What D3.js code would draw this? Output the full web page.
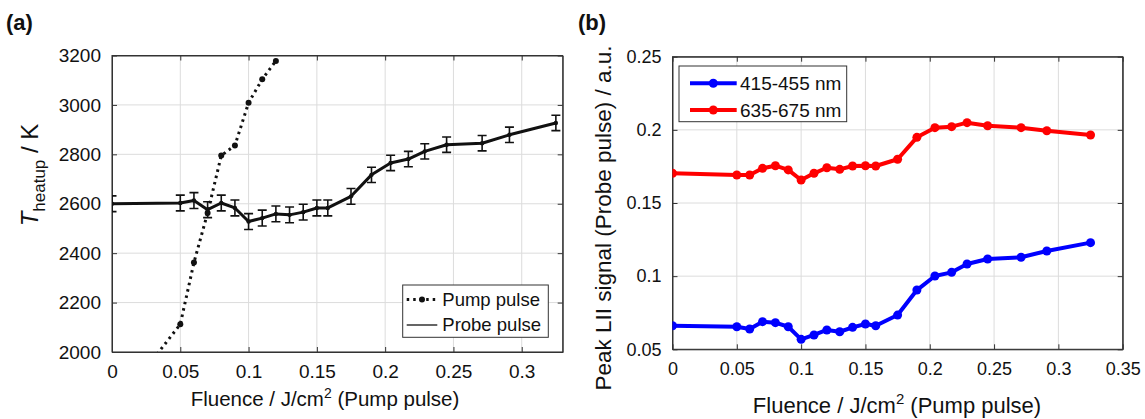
<!DOCTYPE html>
<html><head><meta charset="utf-8">
<script src="https://cdn.jsdelivr.net/npm/d3@7"></script>
<style>
html,body{margin:0;padding:0;background:#fff;}
svg text{font-family:"Liberation Sans",Arial,sans-serif;fill:#111;}
</style></head>
<body>
<svg id="c" width="1145" height="419"></svg>
<script>
// ---------- data ----------
const fluence = [0, 0.05, 0.06, 0.07, 0.08, 0.09, 0.10, 0.11, 0.12, 0.13, 0.14, 0.15, 0.158, 0.175, 0.19, 0.204, 0.217, 0.229, 0.245, 0.271, 0.291, 0.325];
const probeT = [2600, 2603, 2613, 2576, 2603, 2583, 2528, 2542, 2559, 2555, 2566, 2583, 2583, 2630, 2717, 2765, 2781, 2812, 2839, 2845, 2879, 2927];
const probeErr = [32, 32, 32, 32, 32, 32, 32, 32, 32, 32, 32, 32, 32, 32, 31, 31, 31, 31, 31, 31, 31, 31];
const pumpFluence = [0.03, 0.05, 0.06, 0.07, 0.08, 0.09, 0.10, 0.11, 0.12];
const pumpT = [1970, 2112, 2362, 2563, 2795, 2836, 3009, 3104, 3178];
const blueSignal = [0.0661, 0.0654, 0.0639, 0.0689, 0.0682, 0.0654, 0.0568, 0.0598, 0.0632, 0.0620, 0.0650, 0.0673, 0.0661, 0.0734, 0.0905, 0.1001, 0.1026, 0.1083, 0.1117, 0.1129, 0.1172, 0.1229];
const redSignal = [0.1703, 0.1691, 0.1691, 0.1737, 0.1755, 0.1726, 0.1657, 0.1703, 0.1741, 0.1730, 0.1753, 0.1755, 0.1753, 0.1799, 0.1949, 0.2015, 0.2022, 0.2049, 0.2028, 0.2015, 0.1994, 0.1965];
const leftXTicks = [0, 0.05, 0.1, 0.15, 0.2, 0.25, 0.3];
const leftYTicks = [2000, 2200, 2400, 2600, 2800, 3000, 3200];
const rightXTicks = [0, 0.05, 0.1, 0.15, 0.2, 0.25, 0.3, 0.35];
const rightYTicks = [0.05, 0.1, 0.15, 0.2, 0.25];
const legendA = ["Pump pulse", "Probe pulse"];
const legendB = ["415-455 nm", "635-675 nm"];

const svg = d3.select("#c");

function panel(o) {
  const g = svg.append("g");
  const x = d3.scaleLinear().domain(o.xd).range([o.x0, o.x1]);
  const y = d3.scaleLinear().domain(o.yd).range([o.y1, o.y0]);
  // grid
  g.append("g").selectAll("line").data(o.xt).join("line")
    .attr("x1", d => x(d)).attr("x2", d => x(d)).attr("y1", o.y0).attr("y2", o.y1)
    .attr("stroke", "#dcdcdc").attr("stroke-width", 1);
  g.append("g").selectAll("line").data(o.yt).join("line")
    .attr("x1", o.x0).attr("x2", o.x1).attr("y1", d => y(d)).attr("y2", d => y(d))
    .attr("stroke", "#dcdcdc").attr("stroke-width", 1);
  // axes (MATLAB style, inward ticks)
  const fmtX = d => d3.format("~g")(d);
  const ax = [
    [d3.axisBottom(x).tickValues(o.xt).tickSizeInner(-5).tickSizeOuter(0).tickFormat(fmtX).tickPadding(13), o.y1, "x"],
    [d3.axisTop(x).tickValues(o.xt).tickSizeInner(-5).tickSizeOuter(0).tickFormat(""), o.y0, "x"],
    [d3.axisLeft(y).tickValues(o.yt).tickSizeInner(-5).tickSizeOuter(0).tickFormat(o.yfmt).tickPadding(11), o.x0, "y"],
    [d3.axisRight(y).tickValues(o.yt).tickSizeInner(-5).tickSizeOuter(0).tickFormat(""), o.x1, "y"]
  ];
  ax.forEach(([a, pos, t]) => {
    const ag = g.append("g").attr("transform", t === "x" ? `translate(0,${pos})` : `translate(${pos},0)`).call(a);
    ag.selectAll("path,line").attr("stroke", "#333");
    ag.selectAll("text").style("font-size", o.tickFs + "px").attr("fill", "#111");
  });
  g.append("rect").attr("x", o.x0).attr("y", o.y0).attr("width", o.x1 - o.x0).attr("height", o.y1 - o.y0)
    .attr("fill", "none").attr("stroke", "#333").attr("stroke-width", 1);
  const clipId = "clip" + o.id;
  svg.append("clipPath").attr("id", clipId).append("rect")
    .attr("x", o.x0).attr("y", o.y0).attr("width", o.x1 - o.x0).attr("height", o.y1 - o.y0);
  const plot = g.append("g").attr("clip-path", `url(#${clipId})`);
  return { g, x, y, plot };
}

// ---------- panel (a) ----------
const A = panel({ id: "a", x0: 112, x1: 562.7, y0: 55.5, y1: 352, xd: [0, 0.33], yd: [2000, 3200],
  xt: leftXTicks, yt: leftYTicks, yfmt: d3.format("d"), tickFs: 19 });

const pumpData = pumpFluence.map((f, i) => [f, pumpT[i]]);
A.plot.append("path").datum(pumpData)
  .attr("d", d3.line().x(d => A.x(d[0])).y(d => A.y(d[1])))
  .attr("fill", "none").attr("stroke", "#111").attr("stroke-width", 3).attr("stroke-dasharray", "2.5,4");
A.plot.append("g").selectAll("circle").data(pumpData).join("circle")
  .attr("cx", d => A.x(d[0])).attr("cy", d => A.y(d[1])).attr("r", 3).attr("fill", "#111");

const probeData = fluence.map((f, i) => [f, probeT[i], probeErr[i]]);
const eb = A.plot.append("g").attr("stroke", "#111").attr("stroke-width", 1.6);
probeData.forEach(d => {
  const cx = A.x(d[0]), yt = A.y(d[1] + d[2]), yb = A.y(d[1] - d[2]);
  eb.append("line").attr("x1", cx).attr("x2", cx).attr("y1", yt).attr("y2", yb);
  eb.append("line").attr("x1", cx - 4.5).attr("x2", cx + 4.5).attr("y1", yt).attr("y2", yt);
  eb.append("line").attr("x1", cx - 4.5).attr("x2", cx + 4.5).attr("y1", yb).attr("y2", yb);
});
A.plot.append("path").datum(probeData)
  .attr("d", d3.line().x(d => A.x(d[0])).y(d => A.y(d[1])))
  .attr("fill", "none").attr("stroke", "#111").attr("stroke-width", 3).attr("stroke-linejoin", "round");
A.plot.append("g").selectAll("circle").data(probeData).join("circle")
  .attr("cx", d => A.x(d[0])).attr("cy", d => A.y(d[1])).attr("r", 2.2).attr("fill", "#111");

// legend (a)
const la = A.g.append("g");
la.append("rect").attr("x", 402.7).attr("y", 285).attr("width", 145.6).attr("height", 52.3)
  .attr("fill", "#fff").attr("stroke", "#333").attr("stroke-width", 1);
legendA.forEach((t, i) => {
  const yy = 299.5 + i * 25.5;
  la.append("line").attr("x1", 406.7).attr("x2", 437.3).attr("y1", yy).attr("y2", yy)
    .attr("stroke", "#111").attr("stroke-width", i === 0 ? 3 : 1.3).attr("stroke-dasharray", i === 0 ? "2.5,4" : null);
  if (i === 0) la.append("circle").attr("cx", 422).attr("cy", yy).attr("r", 3).attr("fill", "#111");
  la.append("text").attr("x", 442.3).attr("y", yy).attr("dy", "0.35em").style("font-size", "18.5px").text(t);
});

// axis titles (a)
function fluenceTitle(cx, cy, fs) {
  const t = svg.append("text").attr("x", cx).attr("y", cy).attr("text-anchor", "middle").style("font-size", fs + "px");
  t.append("tspan").text("Fluence / J/cm");
  t.append("tspan").attr("dy", -fs * 0.4).style("font-size", (fs * 0.68) + "px").text("2");
  t.append("tspan").attr("dy", fs * 0.4).text(" (Pump pulse)");
}
fluenceTitle(325, 406, 20.5);
const tyl = svg.append("text").attr("transform", "translate(38,175) rotate(-90)").attr("text-anchor", "middle").style("font-size", "24px");
tyl.append("tspan").style("font-style", "italic").text("T");
tyl.append("tspan").attr("dy", 7).style("font-size", "17px").text("heatup");
tyl.append("tspan").attr("dy", -7).text(" / K");

// ---------- panel (b) ----------
const B = panel({ id: "b", x0: 672.5, x1: 1122.7, y0: 56.7, y1: 349.3, xd: [0, 0.35], yd: [0.05, 0.25],
  xt: rightXTicks, yt: rightYTicks, yfmt: d3.format("~g"), tickFs: 18 });

const seriesB = [
  { vals: blueSignal, color: "#0000ff" },
  { vals: redSignal, color: "#ff0000" }
];
seriesB.forEach(s => {
  const d = fluence.map((f, i) => [f, s.vals[i]]);
  B.plot.append("path").datum(d)
    .attr("d", d3.line().x(p => B.x(p[0])).y(p => B.y(p[1])))
    .attr("fill", "none").attr("stroke", s.color).attr("stroke-width", 4).attr("stroke-linejoin", "round");
  B.plot.append("g").selectAll("circle").data(d).join("circle")
    .attr("cx", p => B.x(p[0])).attr("cy", p => B.y(p[1])).attr("r", 4.5).attr("fill", s.color);
});

// legend (b)
const lb = B.g.append("g");
lb.append("rect").attr("x", 679).attr("y", 66).attr("width", 167.7).attr("height", 55.7)
  .attr("fill", "#fff").attr("stroke", "#333").attr("stroke-width", 1);
legendB.forEach((t, i) => {
  const yy = 83.3 + i * 26.7;
  lb.append("line").attr("x1", 690).attr("x2", 736.7).attr("y1", yy).attr("y2", yy)
    .attr("stroke", seriesB[i].color).attr("stroke-width", 4);
  lb.append("circle").attr("cx", 713.3).attr("cy", yy).attr("r", 4.5).attr("fill", seriesB[i].color);
  lb.append("text").attr("x", 740).attr("y", yy).attr("dy", "0.35em").style("font-size", "19px").text(t);
});

fluenceTitle(897, 413, 22);
svg.append("text").attr("transform", "translate(611,218) rotate(-90)").attr("text-anchor", "middle")
  .style("font-size", "22.5px").text("Peak LII signal (Probe pulse) / a.u.");

// panel letters
svg.append("text").attr("x", 6).attr("y", 30).style("font-size", "22px").style("font-weight", "bold").text("(a)");
svg.append("text").attr("x", 578).attr("y", 30).style("font-size", "22px").style("font-weight", "bold").text("(b)");
</script>
</body></html>
